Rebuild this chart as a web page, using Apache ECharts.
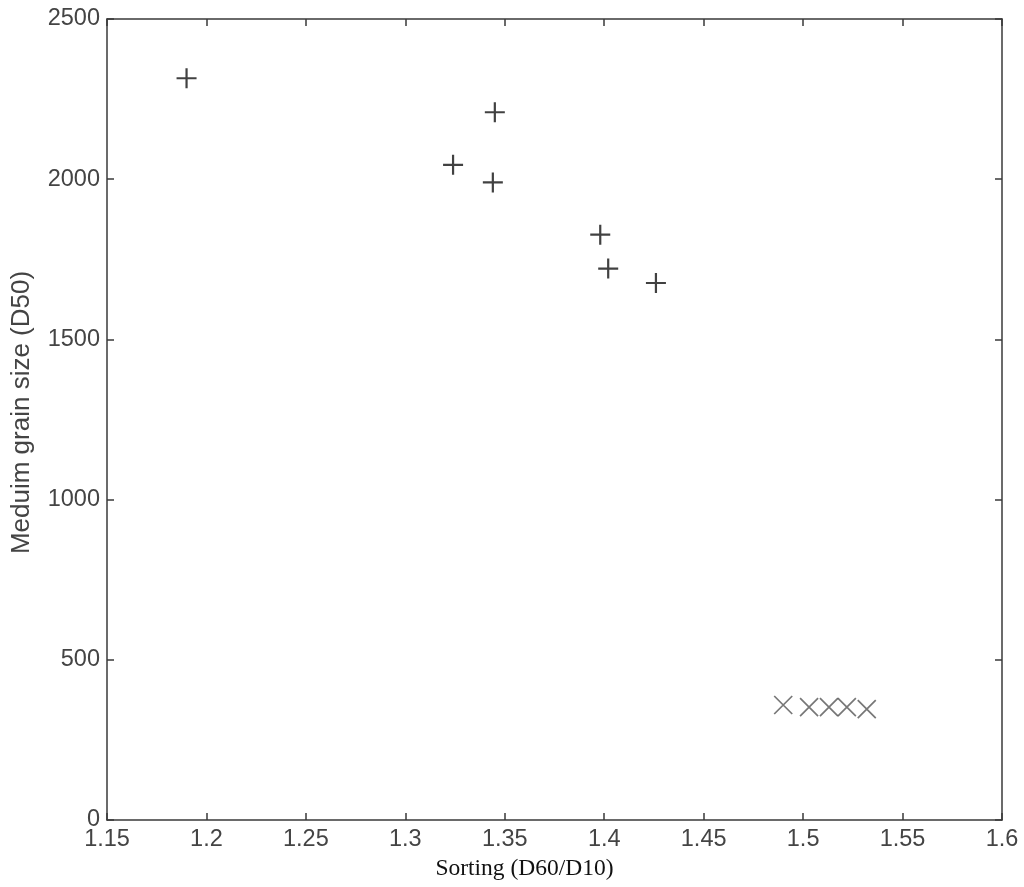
<!DOCTYPE html>
<html>
<head>
<meta charset="utf-8">
<script src="https://cdn.jsdelivr.net/npm/echarts@6/dist/echarts.min.js"></script>
<style>
  html, body { margin: 0; padding: 0; background: #fff; }
  #chart { width: 1024px; height: 887px; }
</style>
</head>
<body>
<div id="chart"></div>
<script>
// sorting (D60/D10) vs medium grain size (D50)
var plusX = [1.190, 1.345, 1.324, 1.344, 1.398, 1.402, 1.426];
var plusY = [2315, 2209, 2045, 1990, 1827, 1721, 1676];
var crossX = [1.490, 1.503, 1.513, 1.522, 1.532];
var crossY = [359, 352, 352, 352, 346];

var xMin = 1.15, xMax = 1.6, xStep = 0.05;
var yMin = 0, yMax = 2500, yStep = 500;

function pairs(xs, ys) {
  return xs.map(function (x, i) { return [x, ys[i]]; });
}

var axisColor = '#3a3a3a';
var labelStyle = { color: '#444', fontFamily: 'Liberation Sans, Arial, sans-serif', fontSize: 23.5 };

var chart = echarts.init(document.getElementById('chart'));
chart.setOption({
  backgroundColor: '#fff',
  animation: false,
  grid: { left: 107, right: 22, top: 19, bottom: 67, containLabel: false },
  xAxis: [
    {
      type: 'value', min: xMin, max: xMax, interval: xStep, position: 'bottom',
      name: 'Sorting (D60/D10)', nameLocation: 'middle', nameGap: 31,
      nameTextStyle: { color: '#111', fontFamily: 'Liberation Serif, Times New Roman, serif', fontSize: 23.5, padding: [0, 60, 0, 0] },
      axisLine: { show: true, onZero: false, lineStyle: { color: axisColor, width: 1.5 } },
      axisTick: { show: true, inside: true, length: 7, lineStyle: { color: axisColor, width: 1.5 } },
      axisLabel: Object.assign({ margin: 8, formatter: function (v) { return +v.toFixed(2) + ''; } }, labelStyle),
      splitLine: { show: false }
    },
    {
      type: 'value', min: xMin, max: xMax, interval: xStep, position: 'top',
      axisLine: { show: true, onZero: false, lineStyle: { color: axisColor, width: 1.5 } },
      axisTick: { show: true, inside: true, length: 7, lineStyle: { color: axisColor, width: 1.5 } },
      axisLabel: { show: false },
      splitLine: { show: false }
    }
  ],
  yAxis: [
    {
      type: 'value', min: yMin, max: yMax, interval: yStep, position: 'left',
      name: 'Meduim grain size (D50)', nameLocation: 'middle', nameGap: 72,
      nameTextStyle: { color: '#444', fontFamily: 'Liberation Sans, Arial, sans-serif', fontSize: 26, padding: [0, 0, 0, 14] },
      axisLine: { show: true, onZero: false, lineStyle: { color: axisColor, width: 1.5 } },
      axisTick: { show: true, inside: true, length: 7, lineStyle: { color: axisColor, width: 1.5 } },
      axisLabel: Object.assign({ margin: 7, formatter: function (v) { return String(v); } }, labelStyle),
      splitLine: { show: false }
    },
    {
      type: 'value', min: yMin, max: yMax, interval: yStep, position: 'right',
      axisLine: { show: true, onZero: false, lineStyle: { color: axisColor, width: 1.5 } },
      axisTick: { show: true, inside: true, length: 7, lineStyle: { color: axisColor, width: 1.5 } },
      axisLabel: { show: false },
      splitLine: { show: false }
    }
  ],
  series: [
    {
      type: 'scatter', xAxisIndex: 0, yAxisIndex: 0,
      data: pairs(plusX, plusY),
      symbol: 'path://M0,10L20,10M10,0L10,20',
      symbolSize: 20,
      itemStyle: { color: 'transparent', borderColor: '#111', borderWidth: 2.2 }
    },
    {
      type: 'scatter', xAxisIndex: 0, yAxisIndex: 0,
      data: pairs(crossX, crossY),
      symbol: 'path://M0,0L20,20M20,0L0,20',
      symbolSize: 18,
      itemStyle: { color: 'transparent', borderColor: '#555', borderWidth: 1.7 }
    }
  ]
});
</script>
</body>
</html>
